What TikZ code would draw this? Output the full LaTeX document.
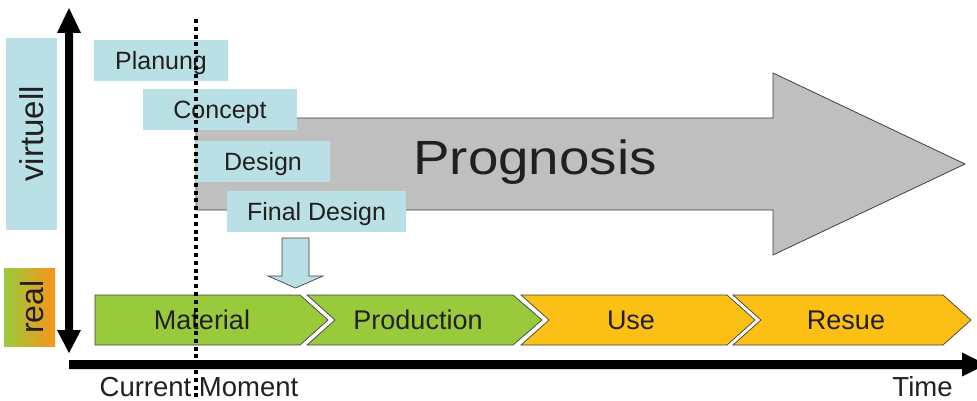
\documentclass[tikz,border=0pt]{standalone}
\usepackage{fontspec}
\setmainfont{Liberation Sans}
\newcommand\setfs[1]{\fontsize{#1}{#1}\selectfont}
\definecolor{boxblue}{RGB}{185,224,228}
\definecolor{arrowgrey}{RGB}{191,191,191}
\definecolor{chevgreen}{RGB}{153,202,60}
\definecolor{chevorange}{RGB}{252,191,19}
\definecolor{realgreen}{RGB}{155,203,60}
\definecolor{realorange}{RGB}{247,148,29}
\definecolor{ink}{RGB}{35,31,32}
\definecolor{edge}{RGB}{64,64,64}
\begin{document}
\begin{tikzpicture}[x=1pt,y=-1pt,
  phasebox/.style={fill=boxblue, inner sep=0pt, minimum height=41pt,
    text height=18pt, text depth=0pt, font=\setfs{25}, text=ink},
  stagebox/.style={draw=edge, line width=0.7pt},
  stagelabel/.style={inner sep=0pt, text height=19.5pt, text depth=0pt,
    font=\setfs{27}, text=ink},
  sidebox/.style={inner sep=0pt, minimum width=51pt, text=ink},
  axislabel/.style={inner sep=0pt, text height=19.5pt, text depth=0pt,
    font=\setfs{27.5}, text=ink}]
\useasboundingbox (0,0) rectangle (977,401);

% forecast arrow
\filldraw[fill=arrowgrey, draw=edge, line width=0.8pt]
  (196,118) -- (773,118) -- (773,73) -- (965,164) -- (773,255)
  -- (773,210) -- (196,210) -- cycle;
\node[inner sep=0pt, text=ink, font=\setfs{48}] (prog) at (535,162)
  {\scalebox{1.14}[1]{Prognosis}};

% virtual planning phases
\node[phasebox, minimum width=134pt] (planung) at (161,60.5) {Planung};
\node[phasebox, minimum width=154pt] (concept) at (220,109.5) {Concept};
\node[phasebox, minimum width=134pt] (design) at (263,161.5) {Design};
\node[phasebox, minimum width=179pt] (final) at (316.5,211.5) {Final Design};

% hand-over from design to the real life cycle
\filldraw[fill=boxblue, draw=edge, line width=0.7pt]
  (282,238) -- (309,238) -- (309,276) -- (323,276) -- (295.5,288)
  -- (268,276) -- (282,276) -- cycle;

% real life-cycle stages
\filldraw[stagebox, fill=chevgreen]
  (95,295) -- (300,295) -- (328,320) -- (300,345) -- (95,345) -- cycle;
\filldraw[stagebox, fill=chevgreen]
  (307,295) -- (513,295) -- (542,320) -- (513,345) -- (307,345) -- (335,320) -- cycle;
\filldraw[stagebox, fill=chevorange]
  (521,295) -- (727,295) -- (755,320) -- (727,345) -- (521,345) -- (549,320) -- cycle;
\filldraw[stagebox, fill=chevorange]
  (733,295) -- (943,295) -- (971,320) -- (943,345) -- (733,345) -- (761,320) -- cycle;
\node[stagelabel] (mat) at (202,320) {Material};
\node[stagelabel] (prod) at (418,320) {Production};
\node[stagelabel] (use) at (631,320) {Use};
\node[stagelabel] (resue) at (846,320) {Resue};

% side labels
\node[sidebox, fill=boxblue, minimum height=192pt] (virtbox) at (31.5,134) {};
\node[rotate=90, inner sep=0pt, text=ink, font=\setfs{33}] (virt) at (31.5,134) {virtuell};
\node[sidebox, left color=realgreen, right color=realorange, minimum height=78pt]
  (realbox) at (29.5,307) {};
\node[rotate=90, inner sep=0pt, text=ink, font=\setfs{32}] (real) at (32,307) {real};

% axes
\fill[black] (69,8) -- (81,33) -- (73,33) -- (73,330) -- (81,330) -- (69,353)
  -- (57,330) -- (65,330) -- (65,33) -- (57,33) -- cycle;
\fill[black] (69,360) -- (962,360) -- (962,352.5) -- (986,364.5) -- (962,376.5)
  -- (962,369) -- (69,369) -- cycle;
\node[axislabel] (now) at (199,386.5) {Current Moment};
\node[axislabel] (time) at (922.5,386.5) {Time};

% current moment marker
\coordinate (marktop) at (196.3,19);
\coordinate (markbot) at (196.3,401);
\draw[black, line width=4pt, dash pattern=on 4pt off 3.8pt] (marktop) -- (markbot);
\end{tikzpicture}
\end{document}
